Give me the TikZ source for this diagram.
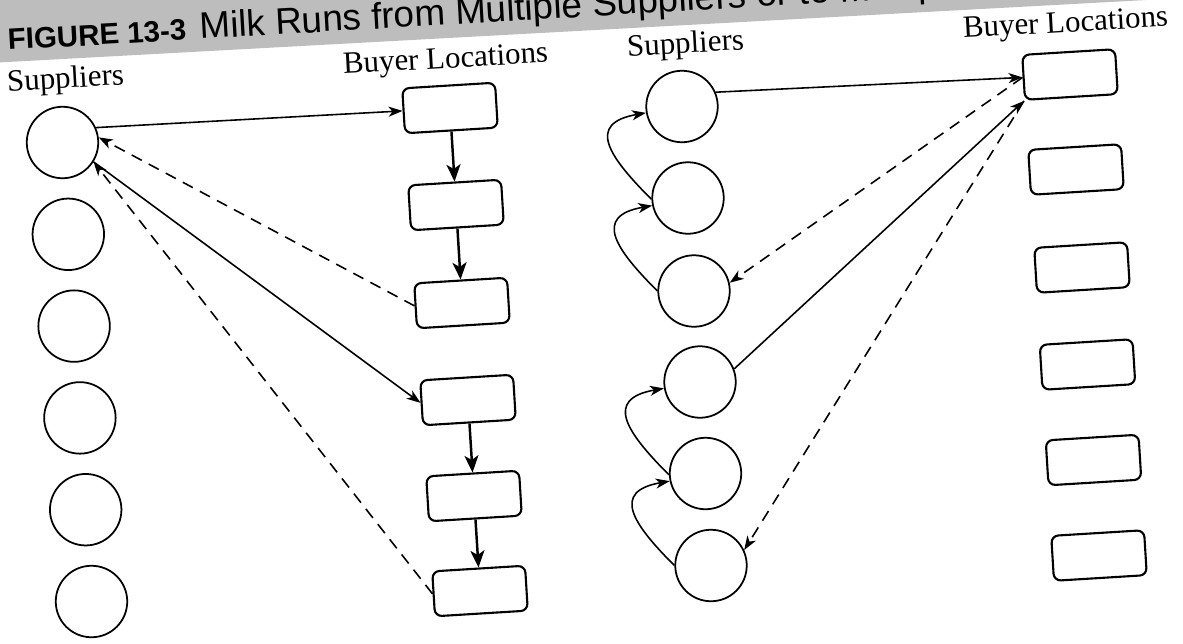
\documentclass[tikz,border=0pt]{standalone}
\usepackage{fontspec}
\setmainfont{Liberation Serif}
\newfontfamily\headfont{Liberation Sans}
\usetikzlibrary{arrows.meta}
\definecolor{halftone}{HTML}{BDBDBD}

\begin{document}
\begin{tikzpicture}[
  x=0.02cm, y=-0.02cm,
  supplier/.style={
    draw,
    circle,
    line width=1pt,
    minimum size=1.43cm,
    inner sep=0pt
  },
  buyer/.style={
    draw,
    rounded corners=4pt,
    line width=1.2pt,
    minimum width=1.86cm,
    minimum height=0.9cm,
    rotate=3.5
  },
  heading/.style={
    font=\fontsize{17.6}{20}\selectfont,
    anchor=base,
    rotate=3.2,
    inner sep=0pt
  },
  run/.style={-{Stealth[length=2.8mm, width=2mm, inset=0.8mm]}, line width=0.9pt},
  back run/.style={run, dash pattern=on 6.5pt off 4.5pt},
  hop/.style={-{Stealth[length=3.4mm, width=2.8mm, inset=0.9mm]}, line width=1.4pt},
  swing/.style={run, out=135, in=190, looseness=1.8}
]

\useasboundingbox (0,0) rectangle (1183,643);
\clip (0,0) rectangle (1183,643);

% caption band
\fill[halftone] (-20,-20) -- (-20,63.5) -- (1183,-2) -- (1183,-20) -- cycle;
\node[anchor=base west, rotate=3.2, inner sep=0pt,
  font=\headfont\bfseries\fontsize{16.8}{19}\selectfont] (fignum) at (8,50) {FIGURE 13-3};
\node[anchor=base west, rotate=3.3, inner sep=0pt,
  font=\headfont\fontsize{21}{24}\selectfont] (figtitle) at (200,39)
  {Milk Runs from Multiple Suppliers or to Multiple Buyers};

% multiple buyers
\node[heading] (lsupplabel) at (66,88) {Suppliers};
\node[heading] (lbuylabel) at (446,68) {Buyer Locations};

\node[supplier] (sup1) at (62.5,142.5) {};
\node[supplier] (sup2) at (68.3,234.3) {};
\node[supplier] (sup3) at (74.1,326.1) {};
\node[supplier] (sup4) at (79.9,417.9) {};
\node[supplier] (sup5) at (85.7,509.7) {};
\node[supplier] (sup6) at (91.5,601.5) {};

\node[buyer] (buy1) at (450,108) {};
\node[buyer] (buy2) at (456,205) {};
\node[buyer] (buy3) at (462,303) {};
\node[buyer] (buy4) at (468,400) {};
\node[buyer] (buy5) at (474,496) {};
\node[buyer] (buy6) at (480,591) {};

\draw[run] (sup1.24) -- (buy1.west);
\draw[hop] (buy1) -- (buy2);
\draw[hop] (buy2) -- (buy3);
\draw[back run] (buy3.west) -- (sup1.8);

\draw[run] (sup1.-32) -- (buy4.west);
\draw[hop] (buy4) -- (buy5);
\draw[hop] (buy5) -- (buy6);
\draw[back run] (buy6.west) -- (sup1.-32);

% multiple suppliers
\node[heading] (rsupplabel) at (686,53) {Suppliers};
\node[heading] (rbuylabel) at (1066,32) {Buyer Locations};

\node[supplier] (rsup1) at (682,106.5) {};
\node[supplier] (rsup2) at (688,198) {};
\node[supplier] (rsup3) at (694,291) {};
\node[supplier] (rsup4) at (700,382) {};
\node[supplier] (rsup5) at (705.5,473.5) {};
\node[supplier] (rsup6) at (711,565.5) {};

\node[buyer] (rbuy1) at (1070,74.5) {};
\node[buyer] (rbuy2) at (1076,169.5) {};
\node[buyer] (rbuy3) at (1082,267.5) {};
\node[buyer] (rbuy4) at (1087.5,364.5) {};
\node[buyer] (rbuy5) at (1093.5,460) {};
\node[buyer] (rbuy6) at (1099,555.5) {};

\draw[swing] (rsup3.180) to (rsup2.192);
\draw[swing] (rsup2.182) to (rsup1.190);
\draw[run] (rsup1.23) -- (rbuy1.west);
\draw[back run] (rbuy1.west) -- (rsup3.13);

\draw[swing] (rsup6.180) to (rsup5.192);
\draw[swing] (rsup5.182) to (rsup4.190);
\draw[run] (rsup4.21) -- (rbuy1.south west);
\draw[back run] (rbuy1.south west) -- (rsup6.25);

\end{tikzpicture}
\end{document}
